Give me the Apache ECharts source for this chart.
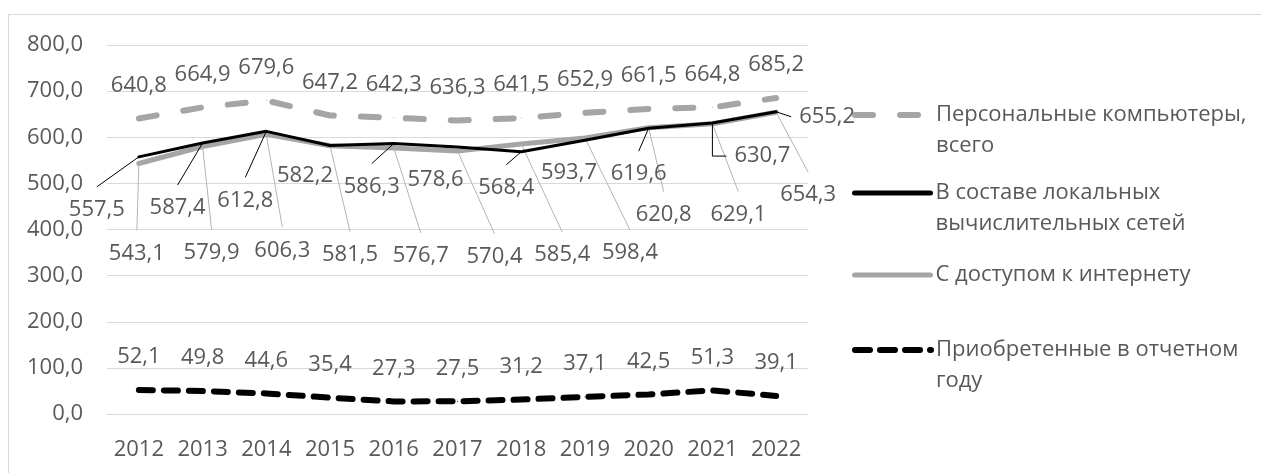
<!DOCTYPE html>
<html>
<head>
<meta charset="utf-8">
<script src="https://cdn.jsdelivr.net/npm/echarts@6/dist/echarts.min.js"></script>
<style>
  html, body { margin: 0; padding: 0; background: #fff; overflow: hidden; }
  #frame { position: absolute; left: 8px; top: 14px; width: 1300px; height: 500px; border: 1px solid #d9d9d9; }
  #chart { position: absolute; left: 0; top: 0; width: 1261px; height: 473px; }
</style>
</head>
<body>
<div id="frame"></div>
<div id="chart"></div>
<script>
// Years and values (thousand units)
const years = ['2012', '2013', '2014', '2015', '2016', '2017', '2018', '2019', '2020', '2021', '2022'];
const pcTotal = [640.8, 664.9, 679.6, 647.2, 642.3, 636.3, 641.5, 652.9, 661.5, 664.8, 685.2];
const localNetworks = [557.5, 587.4, 612.8, 582.2, 586.3, 578.6, 568.4, 593.7, 619.6, 630.7, 655.2];
const internetAccess = [543.1, 579.9, 606.3, 581.5, 576.7, 570.4, 585.4, 598.4, 620.8, 629.1, 654.3];
const acquired = [52.1, 49.8, 44.6, 35.4, 27.3, 27.5, 31.2, 37.1, 42.5, 51.3, 39.1];
const yTicks = { min: 0, max: 800, interval: 100 };

const seriesNames = [
  'Персональные компьютеры,\nвсего',
  'В составе локальных\nвычислительных сетей',
  'С доступом к интернету',
  'Приобретенные в отчетном\nгоду'
];

// Label placement: offset of label centre from its point, in px
const offTop = years.map(() => [0, -33]);
const offLocal = [[-42, 53], [-25, 65], [-21, 69], [-25, 30], [-22, 43], [-22, 33], [-15, 36], [-16, 33], [-10, 46], [50, 33], [51, 5]];
const lineLocal = [1, 1, 1, 0, 1, 0, 1, 0, 1, 1, 1];
const offInternet = [[-2, 90], [9, 106], [16, 116], [20, 109], [27, 108], [37, 106], [41, 111], [45, 115], [15, 87], [26, 91], [32, 83]];

const FONT = '"Open Sans", sans-serif';
const FS = 22;
const TXT = '#595959';
const GRAY = '#a5a5a5';
const fmt = v => Number(v).toFixed(1).replace('.', ',');

function layoutBy(offsets) {
  return function (p) {
    const o = offsets[p.dataIndex];
    const cx = p.rect.x + p.rect.width / 2 + o[0];
    const cy = p.rect.y + p.rect.height / 2 + o[1];
    return {
      dx: cx - (p.labelRect.x + p.labelRect.width / 2),
      dy: cy - (p.labelRect.y + p.labelRect.height / 2)
    };
  };
}

const labelBase = {
  show: true,
  position: 'inside',
  formatter: p => fmt(p.value),
  fontFamily: FONT,
  fontSize: FS,
  lineHeight: 24,
  color: TXT,
  padding: [11, 8, 11, 8]
};

function buildData(values, lineFlags, elbowIndex, elbowLen) {
  return values.map((v, i) => {
    const item = { value: v };
    if (lineFlags) {
      item.labelLine = { show: !!lineFlags[i] };
      if (i === elbowIndex) item.labelLine.length2 = elbowLen;
    }
    return item;
  });
}

const chart = echarts.init(document.getElementById('chart'), null, { renderer: 'canvas' });

// One legend block per series; multi-line names keep the key beside their first line
function legendFor(name, iconY, lineStyle, twoLines) {
  return {
    data: [name],
    left: 852,
    top: iconY - (twoLines ? 46.5 : 15.5),
    orient: 'vertical',
    padding: 0,
    itemWidth: 76,
    itemHeight: 8,
    selectedMode: false,
    itemStyle: { opacity: 0 },
    lineStyle: lineStyle,
    formatter: n => (twoLines ? '\n' + n : n),
    textStyle: {
      fontFamily: FONT,
      fontSize: FS,
      lineHeight: 31,
      color: TXT
    }
  };
}

chart.setOption({
  animation: false,
  backgroundColor: 'transparent',
  grid: { left: 107, right: 453, top: 45, bottom: 59 },
  legend: [
    legendFor(seriesNames[0], 115, { color: GRAY, width: 6, type: [18, 27], cap: 'round' }, true),
    legendFor(seriesNames[1], 193, { color: '#000', width: 5, type: 'solid', cap: 'round' }, true),
    legendFor(seriesNames[2], 275, { color: GRAY, width: 5, type: 'solid', cap: 'round' }, false),
    legendFor(seriesNames[3], 350, { color: '#000', width: 6, type: [15, 10], cap: 'round' }, true)
  ],
  xAxis: {
    type: 'category',
    data: years,
    boundaryGap: true,
    axisLine: { show: true, lineStyle: { color: '#d9d9d9', width: 1 } },
    axisTick: { show: false },
    axisLabel: { fontFamily: FONT, fontSize: FS, color: TXT, margin: 25, interval: 0 }
  },
  yAxis: {
    type: 'value',
    min: yTicks.min,
    max: yTicks.max,
    interval: yTicks.interval,
    axisLine: { show: false },
    axisTick: { show: false },
    splitLine: { lineStyle: { color: '#d9d9d9', width: 1 } },
    axisLabel: { fontFamily: FONT, fontSize: FS, color: TXT, margin: 24, formatter: fmt }
  },
  series: [
    {
      name: seriesNames[0],
      type: 'line',
      data: buildData(pcTotal),
      symbol: 'circle',
      symbolSize: 1,
      itemStyle: { color: GRAY },
      lineStyle: { color: GRAY, width: 6, type: [18, 27], cap: 'round', join: 'round' },
      label: labelBase,
      labelLine: { show: false },
      labelLayout: layoutBy(offTop),
      z: 2
    },
    {
      name: seriesNames[2],
      type: 'line',
      data: buildData(internetAccess, years.map(() => 1)),
      symbol: 'circle',
      symbolSize: 1,
      itemStyle: { color: GRAY },
      lineStyle: { color: GRAY, width: 5, cap: 'round', join: 'round' },
      label: labelBase,
      labelLine: { show: true, length2: 0, minTurnAngle: 0, lineStyle: { color: '#b4b4b4', width: 1 } },
      labelLayout: layoutBy(offInternet),
      z: 3
    },
    {
      name: seriesNames[1],
      type: 'line',
      data: buildData(localNetworks, lineLocal, 9, 14),
      symbol: 'circle',
      symbolSize: 1,
      itemStyle: { color: '#000' },
      lineStyle: { color: '#000', width: 3, cap: 'round', join: 'round' },
      label: labelBase,
      labelLine: { show: true, length2: 0, minTurnAngle: 0, lineStyle: { color: '#000', width: 1 } },
      labelLayout: layoutBy(offLocal),
      z: 4
    },
    {
      name: seriesNames[3],
      type: 'line',
      data: buildData(acquired),
      symbol: 'circle',
      symbolSize: 1,
      itemStyle: { color: '#000' },
      lineStyle: { color: '#000', width: 6, type: [14, 11], cap: 'round', join: 'round' },
      label: labelBase,
      labelLine: { show: false },
      labelLayout: layoutBy(offTop),
      z: 2
    }
  ]
});
</script>
</body>
</html>
